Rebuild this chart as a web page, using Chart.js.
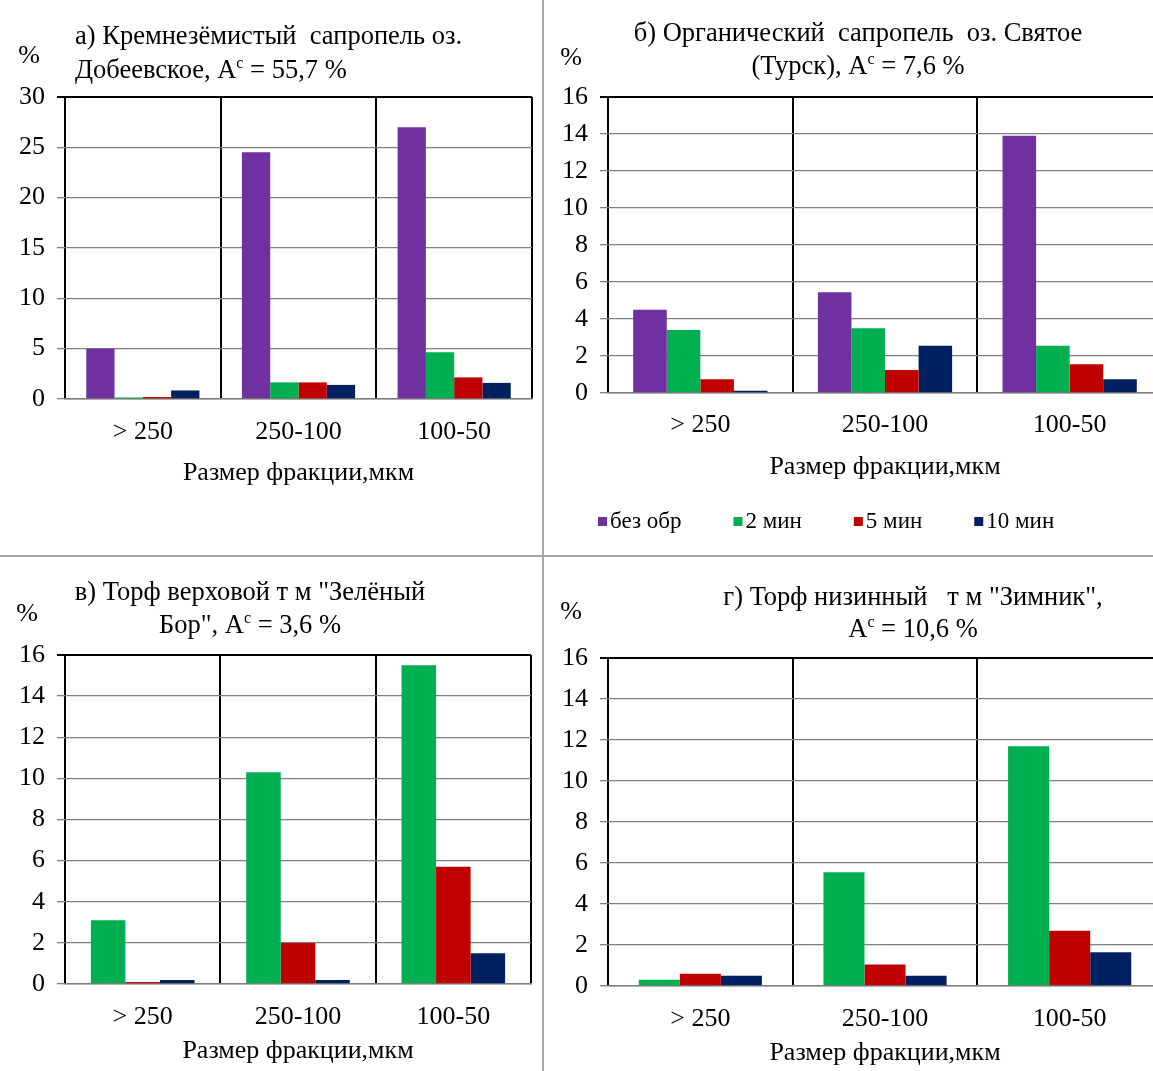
<!DOCTYPE html>
<html lang="ru">
<head>
<meta charset="utf-8">
<title>Фракционный состав</title>
<script src="https://cdn.jsdelivr.net/npm/chart.js@4.4.1/dist/chart.umd.min.js"></script>
<style>
  html, body { margin: 0; padding: 0; background: #fff; overflow: hidden; }
  #page { position: relative; width: 1153px; height: 1071px; overflow: hidden; background: #fff; }
  #page canvas { position: absolute; }
  .sep { position: absolute; background: #a6a6a6; }
</style>
</head>
<body>
<div id="page">
  <canvas id="chartA" width="540" height="555" style="left:0;top:0;width:540px;height:555px"></canvas>
  <canvas id="chartB" width="620" height="555" style="left:550px;top:0;width:620px;height:555px"></canvas>
  <canvas id="chartC" width="540" height="513" style="left:0;top:558px;width:540px;height:513px"></canvas>
  <canvas id="chartD" width="620" height="513" style="left:550px;top:558px;width:620px;height:513px"></canvas>
  <div class="sep" style="left:542px;top:0;width:2px;height:1071px"></div>
  <div class="sep" style="left:0;top:555px;width:1153px;height:2px"></div>
</div>
<script>
// fractions and treatment series
const fractions = ['> 250', '250-100', '100-50'];
const seriesNames = ['без обр', '2 мин', '5 мин', '10 мин'];
const seriesColors = ['#7030A0', '#00B050', '#C00000', '#002060'];
const axisTitle = 'Размер фракции,мкм';

// а) сапропель оз. Добеевское
const dobeevBez = [5.0, 24.5, 27.0];
const dobeev2 = [0.15, 1.65, 4.65];
const dobeev5 = [0.2, 1.65, 2.15];
const dobeev10 = [0.85, 1.4, 1.6];

// б) сапропель оз. Святое
const svyatoeBez = [4.5, 5.45, 13.9];
const svyatoe2 = [3.4, 3.5, 2.55];
const svyatoe5 = [0.75, 1.25, 1.55];
const svyatoe10 = [0.12, 2.55, 0.75];

// в) торф "Зелёный Бор"
const zelBor2 = [3.1, 10.3, 15.5];
const zelBor5 = [0.1, 2.0, 5.7];
const zelBor10 = [0.2, 0.2, 1.5];

// г) торф "Зимник"
const zimnik2 = [0.3, 5.55, 11.7];
const zimnik5 = [0.6, 1.05, 2.7];
const zimnik10 = [0.5, 0.5, 1.65];

const ticksA = { max: 30, step: 5 };
const ticks16 = { max: 16, step: 2 };

const titleA = ['а) Кремнезёмистый  сапропель оз.', 'Добеевское, A^c = 55,7 %'];
const titleB = ['б) Органический  сапропель  оз. Святое', '(Турск), A^c = 7,6 %'];
const titleC = ['в) Торф верховой т м "Зелёный', 'Бор", A^c = 3,6 %'];
const titleD = ['г) Торф низинный   т м "Зимник",', 'A^c = 10,6 %'];

const FAMILY = "'Liberation Serif', 'Times New Roman', serif";
const FONT_SIZE = 26;
const TITLE_SIZE = 26.5;
const LEGEND_SIZE = 23;
Chart.defaults.font.family = FAMILY;
Chart.defaults.font.size = FONT_SIZE;
Chart.defaults.color = '#000';

// split "A^c" into plain and superscript pieces
function runsOf(text) {
  const runs = [];
  let buf = '';
  for (let i = 0; i < text.length; i++) {
    if (text[i] === '^' && i + 1 < text.length) {
      if (buf) runs.push({ t: buf, sup: false });
      runs.push({ t: text[i + 1], sup: true });
      buf = '';
      i++;
    } else {
      buf += text[i];
    }
  }
  if (buf) runs.push({ t: buf, sup: false });
  return runs;
}

function drawLine(ctx, text, x, y, align) {
  const runs = runsOf(text);
  const big = TITLE_SIZE + 'px ' + FAMILY;
  const small = Math.round(TITLE_SIZE * 0.6) + 'px ' + FAMILY;
  let total = 0;
  runs.forEach(r => { ctx.font = r.sup ? small : big; r.w = ctx.measureText(r.t).width; total += r.w; });
  let cx = align === 'center' ? x - total / 2 : x;
  ctx.textAlign = 'left';
  runs.forEach(r => {
    ctx.font = r.sup ? small : big;
    ctx.fillText(r.t, cx, r.sup ? y - 7 : y);
    cx += r.w;
  });
}

// titles, unit sign and (for one panel) the shared legend
const panelDecor = {
  id: 'panelDecor',
  afterDraw(chart, args, opts) {
    const ctx = chart.ctx;
    ctx.save();
    ctx.fillStyle = '#000';
    ctx.textBaseline = 'middle';
    ctx.font = FONT_SIZE + 'px ' + FAMILY;
    ctx.textAlign = 'center';
    ctx.fillText('%', opts.unitX, opts.unitY);
    opts.title.forEach((line, i) => drawLine(ctx, line, opts.titleX, opts.titleY[i], opts.titleAlign));
    if (opts.legend) {
      let x = opts.legend.x;
      const y = opts.legend.y;
      ctx.font = LEGEND_SIZE + 'px ' + FAMILY;
      chart.data.datasets.forEach(ds => {
        ctx.fillStyle = ds.backgroundColor;
        ctx.fillRect(x, y - 5, 9, 9);
        ctx.fillStyle = '#000';
        ctx.textAlign = 'left';
        ctx.fillText(ds.label, x + 12, y);
        x += 12 + ctx.measureText(ds.label).width + 52;
      });
    }
    ctx.restore();
  }
};

function makePanel(id, cfg) {
  const datasets = cfg.series.map(s => ({
    label: seriesNames[s.idx],
    data: s.data,
    backgroundColor: seriesColors[s.idx],
    borderWidth: 0,
    categoryPercentage: cfg.catPct,
    barPercentage: 1
  }));
  const yMax = cfg.ticks.max;
  return new Chart(document.getElementById(id), {
    type: 'bar',
    data: { labels: fractions, datasets: datasets },
    options: {
      responsive: false,
      animation: false,
      devicePixelRatio: 1,
      layout: { padding: { left: 0, right: cfg.padRight, top: cfg.padTop, bottom: 0 } },
      plugins: {
        legend: { display: false },
        tooltip: { enabled: false },
        panelDecor: cfg.decor
      },
      scales: {
        x: {
          grid: { offset: true, color: '#000', lineWidth: 2, drawTicks: false },
          border: { color: '#7f7f7f', width: 1.5 },
          ticks: { padding: cfg.tickPad, color: '#000' },
          title: { display: true, text: axisTitle, color: '#000', padding: { top: 0, bottom: cfg.titlePad } },
          afterFit: s => { s.height = cfg.xHeight; }
        },
        y: {
          min: 0,
          max: yMax,
          ticks: { stepSize: cfg.ticks.step, padding: 12, color: '#000' },
          grid: {
            color: c => (c.tick && c.tick.value === yMax) ? '#000' : '#808080',
            lineWidth: c => (c.tick && c.tick.value === yMax) ? 2 : 1.3,
            tickLength: 8
          },
          border: { display: false },
          afterFit: s => { s.width = cfg.yWidth; }
        }
      }
    },
    plugins: [panelDecor]
  });
}

makePanel('chartA', {
  series: [{ idx: 0, data: dobeevBez }, { idx: 1, data: dobeev2 }, { idx: 2, data: dobeev5 }, { idx: 3, data: dobeev10 }],
  catPct: 0.727, ticks: ticksA,
  yWidth: 65, padRight: 8, padTop: 97, xHeight: 156, tickPad: 17.4, titlePad: 66,
  decor: { unitX: 29, unitY: 56, title: titleA, titleX: 75, titleY: [37, 71], titleAlign: 'left' }
});

makePanel('chartB', {
  series: [{ idx: 0, data: svyatoeBez }, { idx: 1, data: svyatoe2 }, { idx: 2, data: svyatoe5 }, { idx: 3, data: svyatoe10 }],
  catPct: 0.727, ticks: ticks16,
  yWidth: 58, padRight: 8, padTop: 97, xHeight: 162, tickPad: 17, titlePad: 72.5,
  decor: { unitX: 21, unitY: 58, title: titleB, titleX: 308, titleY: [34, 67], titleAlign: 'center',
           legend: { x: 48, y: 522 } }
});

makePanel('chartC', {
  series: [{ idx: 1, data: zelBor2 }, { idx: 2, data: zelBor5 }, { idx: 3, data: zelBor10 }],
  catPct: 0.667, ticks: ticks16,
  yWidth: 65, padRight: 9, padTop: 97, xHeight: 87, tickPad: 18, titlePad: 4.5,
  decor: { unitX: 27, unitY: 56, title: titleC, titleX: 250, titleY: [35, 68], titleAlign: 'center' }
});

makePanel('chartD', {
  series: [{ idx: 1, data: zimnik2 }, { idx: 2, data: zimnik5 }, { idx: 3, data: zimnik10 }],
  catPct: 0.667, ticks: ticks16,
  yWidth: 58, padRight: 8, padTop: 100, xHeight: 85, tickPad: 17.5, titlePad: 2.5,
  decor: { unitX: 21, unitY: 54, title: titleD, titleX: 363, titleY: [40, 72], titleAlign: 'center' }
});
</script>
</body>
</html>
